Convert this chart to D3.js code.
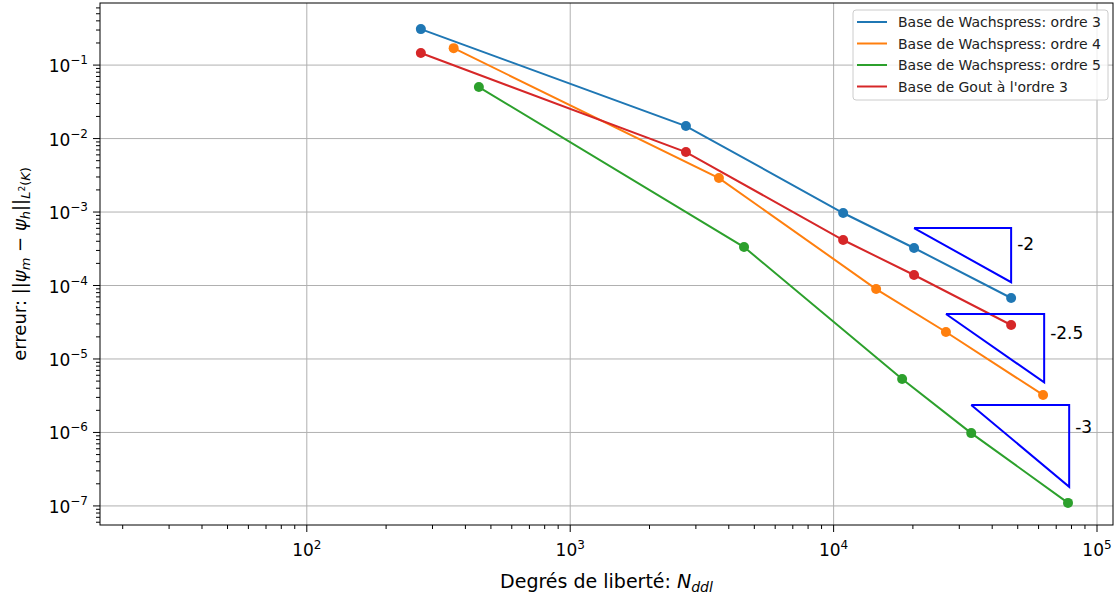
<!DOCTYPE html>
<html><head><meta charset="utf-8">
<script src="https://cdn.jsdelivr.net/npm/d3@7"></script>
<style>body{margin:0;background:#fff}svg{display:block}text{font-family:"DejaVu Sans",sans-serif}</style>
</head><body><svg id="c" width="1119" height="599"></svg>
<script>
// ---- data ----
const seriesNames = ["Base de Wachspress: ordre 3","Base de Wachspress: ordre 4","Base de Wachspress: ordre 5","Base de Gout à l'ordre 3"];
const seriesColors = ["#1f77b4","#ff7f0e","#2ca02c","#d62728"];
const ndlOrdre3 = [271, 2750, 10870, 20200, 47200];
const errOrdre3 = [0.309, 0.0148, 9.7e-4, 3.24e-4, 6.76e-5];
const ndlOrdre4 = [361, 3670, 14500, 26700, 62400];
const errOrdre4 = [0.170, 2.9e-3, 8.95e-5, 2.33e-5, 3.24e-6];
const ndlOrdre5 = [450, 4570, 18200, 33300, 77600];
const errOrdre5 = [0.0502, 3.34e-4, 5.35e-6, 9.8e-7, 1.1e-7];
const ndlGout3 = [271, 2750, 10870, 20200, 47200];
const errGout3 = [0.146, 6.55e-3, 4.16e-4, 1.39e-4, 2.9e-5];
// slope triangles: x start, x end, top y, slope label
const triX0 = [20200, 26700, 33300];
const triX1 = [47200, 63000, 78400];
const triYTop = [6.05e-4, 4.1e-5, 2.37e-6];
const triSlope = [-2, -2.5, -3];
const triLabels = ["-2", "-2.5", "-3"];
const xTickExps = [2, 3, 4, 5];
const yTickExps = [-1, -2, -3, -4, -5, -6, -7];

// ---- layout ----
const L = 100, R = 1113, T = 3, B = 525;
const svg = d3.select("#c");
const x = d3.scaleLog().domain([16.4, 115000]).range([L, R]);
const y = d3.scaleLog().domain([0.70, 5.5e-8]).range([T, B]);

// grid
const g = svg.append("g");
xTickExps.forEach(e => {
  const px = x(Math.pow(10, e));
  g.append("line").attr("x1", px).attr("x2", px).attr("y1", T).attr("y2", B)
    .attr("stroke", "#b0b0b0").attr("stroke-width", 1);
});
yTickExps.forEach(e => {
  const py = y(Math.pow(10, e));
  g.append("line").attr("x1", L).attr("x2", R).attr("y1", py).attr("y2", py)
    .attr("stroke", "#b0b0b0").attr("stroke-width", 1);
});

// series
const allSeries = [[ndlOrdre3, errOrdre3],[ndlOrdre4, errOrdre4],[ndlOrdre5, errOrdre5],[ndlGout3, errGout3]];
const line = d3.line().x(d => x(d[0])).y(d => y(d[1]));
allSeries.forEach((s, i) => {
  const pts = s[0].map((v, j) => [v, s[1][j]]);
  svg.append("path").attr("d", line(pts)).attr("fill", "none")
    .attr("stroke", seriesColors[i]).attr("stroke-width", 2);
  svg.selectAll(null).data(pts).enter().append("circle")
    .attr("cx", d => x(d[0])).attr("cy", d => y(d[1])).attr("r", 5)
    .attr("fill", seriesColors[i]);
});

// triangles
triX0.forEach((x0, i) => {
  const x1 = triX1[i], yt = triYTop[i];
  const yb = yt * Math.pow(x1 / x0, triSlope[i]);
  const pts = [[x0, yt], [x1, yt], [x1, yb], [x0, yt]];
  svg.append("path").attr("d", line(pts)).attr("fill", "none")
    .attr("stroke", "#0000ff").attr("stroke-width", 2);
  const ym = Math.sqrt(yt * yb);
  svg.append("text").attr("x", x(x1) + 6).attr("y", (y(yt) + y(ym)) / 2 + 8)
    .attr("font-size", 17).attr("fill", "#000").text(triLabels[i]);
});

// frame
svg.append("rect").attr("x", L).attr("y", T).attr("width", R - L).attr("height", B - T)
  .attr("fill", "none").attr("stroke", "#000").attr("stroke-width", 1);

// x ticks
const xa = svg.append("g");
for (let e = 1; e <= 5; e++) {
  for (let m = 1; m <= 9; m++) {
    const v = m * Math.pow(10, e);
    if (v < x.domain()[0] || v > x.domain()[1]) continue;
    const px = x(v), major = m === 1;
    xa.append("line").attr("x1", px).attr("x2", px).attr("y1", B).attr("y2", B + (major ? 7 : 4))
      .attr("stroke", "#000").attr("stroke-width", 1);
  }
}
xTickExps.forEach(e => {
  const t = xa.append("text").attr("x", x(Math.pow(10, e))).attr("y", 556)
    .attr("text-anchor", "middle").attr("font-size", 17).attr("fill", "#000");
  t.append("tspan").text("10");
  t.append("tspan").attr("dy", -7).attr("font-size", 12).text(String(e));
});
// y ticks
const ya = svg.append("g");
for (let e = -8; e <= 0; e++) {
  for (let m = 1; m <= 9; m++) {
    const v = m * Math.pow(10, e);
    if (v > y.domain()[0] || v < y.domain()[1]) continue;
    const py = y(v), major = m === 1;
    ya.append("line").attr("x1", L).attr("x2", L - (major ? 7 : 4)).attr("y1", py).attr("y2", py)
      .attr("stroke", "#000").attr("stroke-width", 1);
  }
}
yTickExps.forEach(e => {
  const t = ya.append("text").attr("x", 88).attr("y", y(Math.pow(10, e)) + 7)
    .attr("text-anchor", "end").attr("font-size", 17).attr("fill", "#000");
  t.append("tspan").text("10");
  t.append("tspan").attr("dy", -8).attr("font-size", 12).text("\u2212" + Math.abs(e));
});

// axis labels
const xl = svg.append("text").attr("x", (L + R) / 2).attr("y", 588).attr("text-anchor", "middle")
  .attr("font-size", 19).attr("fill", "#000");
xl.append("tspan").text("Degrés de liberté: ");
xl.append("tspan").attr("font-style", "italic").text("N");
xl.append("tspan").attr("font-style", "italic").attr("font-size", 14).attr("dy", 4).text("ddl");

const yl = svg.append("text").attr("transform", `translate(26,${(T + B) / 2}) rotate(-90)`)
  .attr("text-anchor", "middle").attr("font-size", 18).attr("fill", "#000");
yl.append("tspan").text("erreur: ||");
yl.append("tspan").attr("font-style", "italic").text("ψ");
yl.append("tspan").attr("font-style", "italic").attr("font-size", 13).attr("dy", 4).text("m");
yl.append("tspan").attr("dy", -4).text(" \u2212 ");
yl.append("tspan").attr("font-style", "italic").text("ψ");
yl.append("tspan").attr("font-style", "italic").attr("font-size", 13).attr("dy", 4).text("h");
yl.append("tspan").attr("dy", -4).text("||");
yl.append("tspan").attr("font-style", "italic").attr("font-size", 13).attr("dy", 4).text("L");
yl.append("tspan").attr("font-size", 9).attr("dy", -5).text("2");
yl.append("tspan").attr("font-size", 13).attr("dy", 5).text("(");
yl.append("tspan").attr("font-style", "italic").attr("font-size", 13).text("K");
yl.append("tspan").attr("font-size", 13).text(")");

// legend
const lg = svg.append("g");
lg.append("rect").attr("x", 853).attr("y", 10).attr("width", 255).attr("height", 90).attr("rx", 3)
  .attr("fill", "#fff").attr("fill-opacity", 0.8).attr("stroke", "#ccc").attr("stroke-width", 1);
seriesNames.forEach((n, i) => {
  const yy = 22 + i * 21.5;
  lg.append("line").attr("x1", 857).attr("x2", 887).attr("y1", yy).attr("y2", yy)
    .attr("stroke", seriesColors[i]).attr("stroke-width", 2);
  lg.append("text").attr("x", 898).attr("y", yy + 5).attr("font-size", 14).attr("fill", "#222").text(n);
});
</script></body></html>
